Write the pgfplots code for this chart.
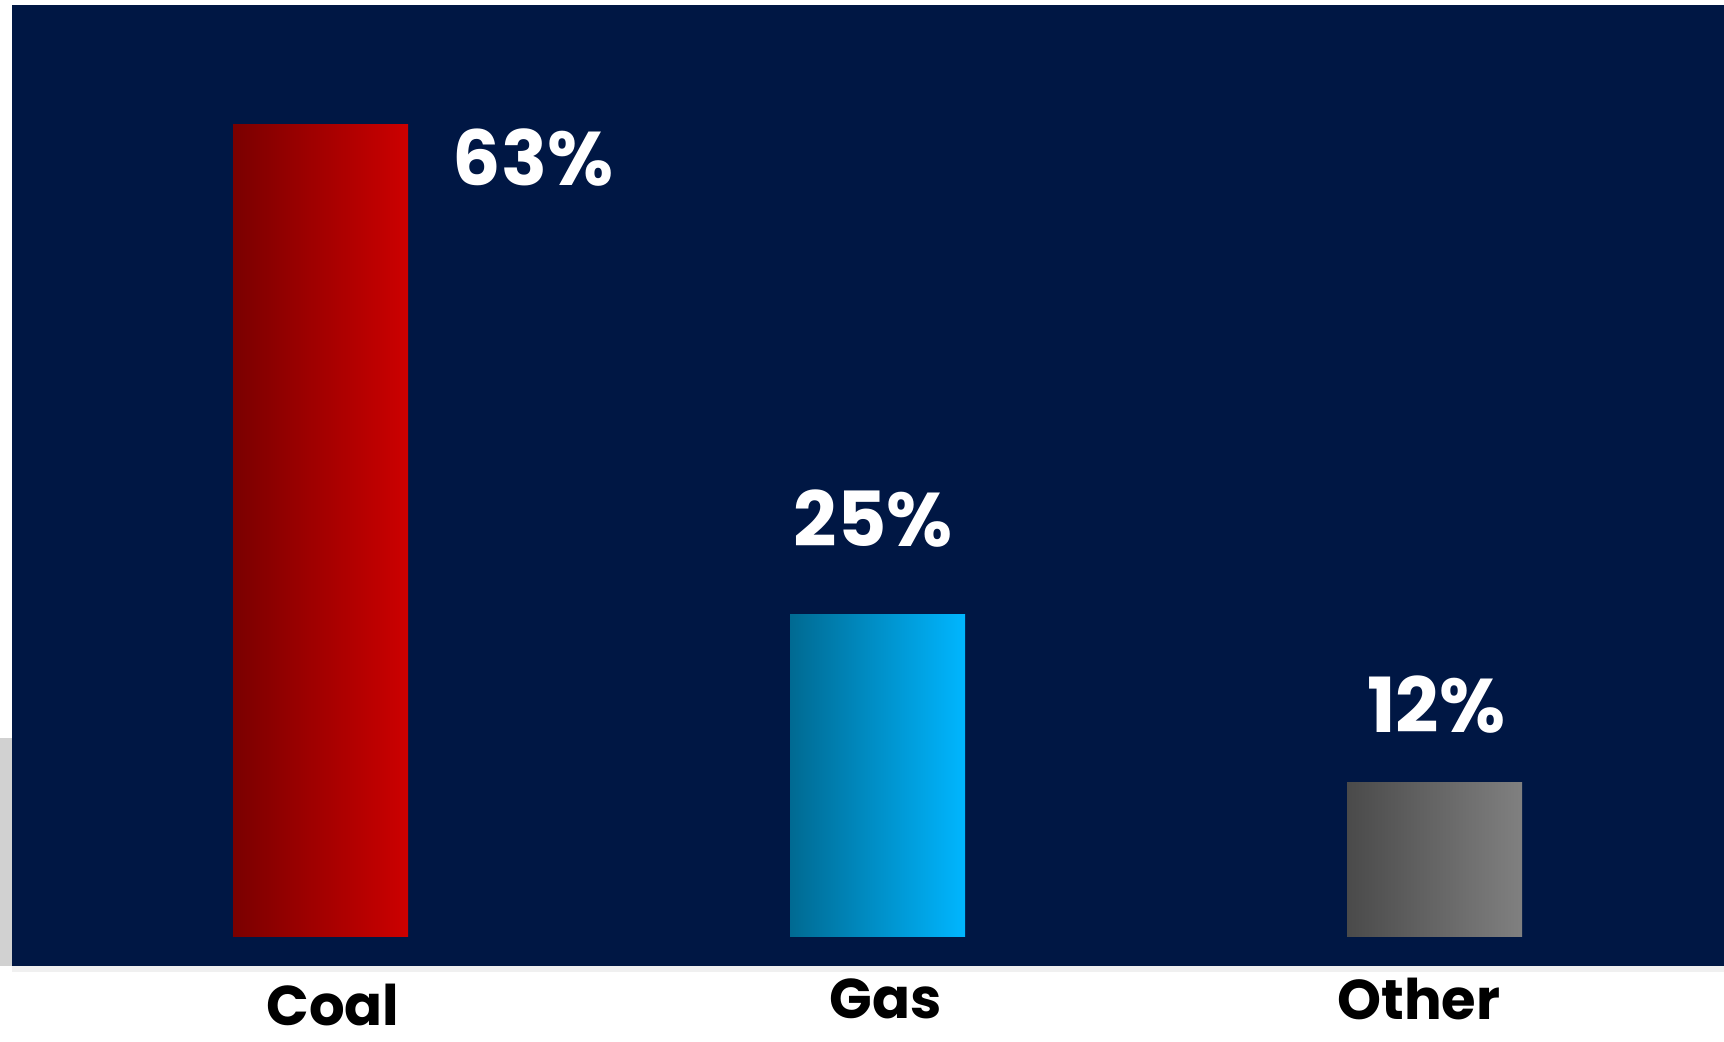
\documentclass[border=0pt]{standalone}
\usepackage{pgfplots}
\pgfplotsset{compat=1.18}
\usepackage{fontspec}
\setmainfont{Poppins}
\definecolor{navybg}{HTML}{001744}
\definecolor{coalL}{HTML}{7A0000}
\definecolor{coalR}{HTML}{CC0000}
\definecolor{gasL}{HTML}{006A92}
\definecolor{gasR}{HTML}{00B6FF}
\definecolor{othL}{HTML}{4A4A4A}
\definecolor{othR}{HTML}{808080}
\begin{document}
\begin{tikzpicture}
\path[use as bounding box] (0,0) rectangle (862pt,521pt);
% soft shadow
\fill[black!18] (0pt,38pt) rectangle (6pt,152pt);
\fill[black!6] (6pt,35pt) rectangle (862pt,38pt);
\begin{axis}[
  at={(6pt,38pt)}, anchor=south west,
  scale only axis, width=856pt, height=480.5pt,
  xmin=-0.5539, xmax=2.5197, ymin=-2.25, ymax=72.31,
  axis background/.style={fill=navybg},
  axis line style={draw=none},
  ytick=\empty, xtick=\empty,
  ybar, bar width=87.5pt,
  clip=false,
]
\addplot[bar shift=0pt, draw=none, left color=coalL, right color=coalR] coordinates {(0,63)};
\addplot[bar shift=0pt, draw=none, left color=gasL, right color=gasR] coordinates {(1,25)};
\addplot[bar shift=0pt, draw=none, left color=othL, right color=othR] coordinates {(2,12)};
\node[text=white, font=\fontsize{38}{40}\selectfont\bfseries] at (axis cs:0.3815,60.44) {63\%};
\node[text=white, font=\fontsize{38}{40}\selectfont\bfseries] at (axis cs:0.992,32.5) {25\%};
\node[text=white, font=\fontsize{38}{40}\selectfont\bfseries] at (axis cs:2.003,18.0) {12\%};
\node[text=black, inner sep=0pt, font=\fontsize{28}{30}\selectfont\bfseries, yshift=-19.5pt] at (axis cs:0.022,-2.25) {Coal};
\node[text=black, inner sep=0pt, font=\fontsize{28}{30}\selectfont\bfseries, yshift=-16.5pt] at (axis cs:1.014,-2.25) {Gas};
\node[text=black, inner sep=0pt, font=\fontsize{28}{30}\selectfont\bfseries, yshift=-16.5pt] at (axis cs:1.972,-2.25) {Other};
\end{axis}
\end{tikzpicture}
\end{document}
